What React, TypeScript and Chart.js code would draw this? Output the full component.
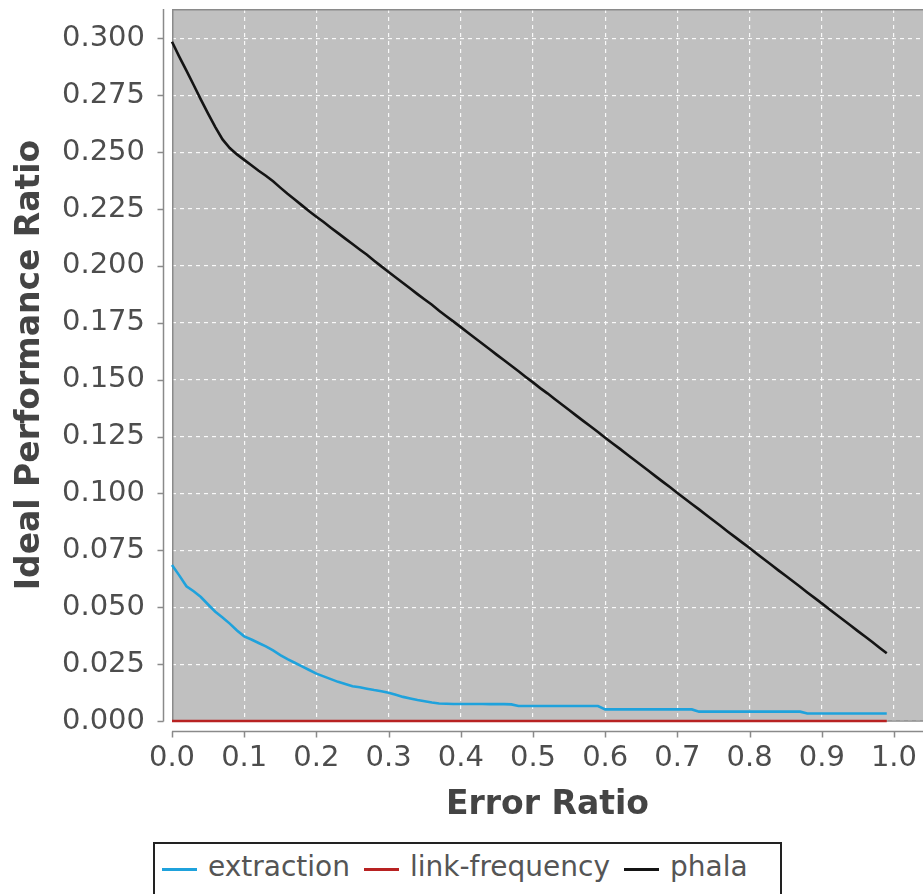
import React, { useEffect, useRef } from "react";
import { Chart, registerables } from "chart.js";

Chart.register(...registerables);

// Error ratio sampled from 0.00 to 0.99
const errorRatio = [
  0.0, 0.01, 0.02, 0.03, 0.04, 0.05, 0.06, 0.07, 0.08, 0.09,
  0.1, 0.11, 0.12, 0.13, 0.14, 0.15, 0.16, 0.17, 0.18, 0.19,
  0.2, 0.21, 0.22, 0.23, 0.24, 0.25, 0.26, 0.27, 0.28, 0.29,
  0.3, 0.31, 0.32, 0.33, 0.34, 0.35, 0.36, 0.37, 0.38, 0.39,
  0.4, 0.41, 0.42, 0.43, 0.44, 0.45, 0.46, 0.47, 0.48, 0.49,
  0.5, 0.51, 0.52, 0.53, 0.54, 0.55, 0.56, 0.57, 0.58, 0.59,
  0.6, 0.61, 0.62, 0.63, 0.64, 0.65, 0.66, 0.67, 0.68, 0.69,
  0.7, 0.71, 0.72, 0.73, 0.74, 0.75, 0.76, 0.77, 0.78, 0.79,
  0.8, 0.81, 0.82, 0.83, 0.84, 0.85, 0.86, 0.87, 0.88, 0.89,
  0.9, 0.91, 0.92, 0.93, 0.94, 0.95, 0.96, 0.97, 0.98, 0.99,
];

const extraction = [
  0.0686, 0.064, 0.0592, 0.057, 0.0545, 0.0512, 0.048, 0.0455, 0.0428, 0.0398,
  0.0372, 0.0358, 0.0343, 0.0328, 0.031, 0.029, 0.0272, 0.0256, 0.024, 0.0224,
  0.0208, 0.0196, 0.0184, 0.0172, 0.0163, 0.0153, 0.0148, 0.0142, 0.0136, 0.0131,
  0.0124, 0.0115, 0.0106, 0.0099, 0.0092, 0.0087, 0.0081, 0.0077, 0.0076, 0.0075,
  0.0075, 0.0075, 0.0075, 0.0075, 0.0074, 0.0074, 0.0074, 0.0073, 0.0066, 0.0066,
  0.0066, 0.0066, 0.0066, 0.0066, 0.0066, 0.0066, 0.0066, 0.0066, 0.0066, 0.0066,
  0.0051, 0.0051, 0.0051, 0.0051, 0.0051, 0.0051, 0.0051, 0.0051, 0.0051, 0.0051,
  0.0051, 0.0051, 0.0051, 0.0041, 0.0041, 0.0041, 0.0041, 0.0041, 0.0041, 0.0041,
  0.0041, 0.0041, 0.0041, 0.0041, 0.0041, 0.0041, 0.0041, 0.0041, 0.0033, 0.0033,
  0.0033, 0.0033, 0.0033, 0.0033, 0.0033, 0.0033, 0.0033, 0.0033, 0.0033, 0.0033,
];

const linkFrequency = [
  0, 0, 0, 0, 0, 0, 0, 0, 0, 0,
  0, 0, 0, 0, 0, 0, 0, 0, 0, 0,
  0, 0, 0, 0, 0, 0, 0, 0, 0, 0,
  0, 0, 0, 0, 0, 0, 0, 0, 0, 0,
  0, 0, 0, 0, 0, 0, 0, 0, 0, 0,
  0, 0, 0, 0, 0, 0, 0, 0, 0, 0,
  0, 0, 0, 0, 0, 0, 0, 0, 0, 0,
  0, 0, 0, 0, 0, 0, 0, 0, 0, 0,
  0, 0, 0, 0, 0, 0, 0, 0, 0, 0,
  0, 0, 0, 0, 0, 0, 0, 0, 0, 0,
];

const phala = [
  0.2985, 0.292, 0.2858, 0.2795, 0.2731, 0.2669, 0.261, 0.2556, 0.2518, 0.249,
  0.2466, 0.2442, 0.2418, 0.2396, 0.2372, 0.2344, 0.2317, 0.2292, 0.2266, 0.224,
  0.2216, 0.2193, 0.2168, 0.2144, 0.212, 0.2096, 0.2072, 0.2049, 0.2023, 0.1998,
  0.1973, 0.1949, 0.1925, 0.1901, 0.1876, 0.1852, 0.1829, 0.1803, 0.1779, 0.1755,
  0.1731, 0.1706, 0.1682, 0.1658, 0.1634, 0.1609, 0.1585, 0.1561, 0.1537, 0.1512,
  0.1488, 0.1463, 0.144, 0.1415, 0.1391, 0.1367, 0.1342, 0.1318, 0.1294, 0.127,
  0.1245, 0.1221, 0.1197, 0.1172, 0.1148, 0.1124, 0.11, 0.1075, 0.1051, 0.1027,
  0.1002, 0.0978, 0.0954, 0.093, 0.0905, 0.0881, 0.0857, 0.0832, 0.0808, 0.0784,
  0.076, 0.0735, 0.0711, 0.0687, 0.0662, 0.0638, 0.0614, 0.059, 0.0565, 0.0541,
  0.0517, 0.0492, 0.0468, 0.0444, 0.042, 0.0395, 0.0371, 0.0347, 0.0322, 0.0298,
];

const xTicks = [0, 0.1, 0.2, 0.3, 0.4, 0.5, 0.6, 0.7, 0.8, 0.9, 1.0];
const yTicks = [0, 0.025, 0.05, 0.075, 0.1, 0.125, 0.15, 0.175, 0.2, 0.225, 0.25, 0.275, 0.3];

const seriesNames = ["extraction", "link-frequency", "phala"];
const seriesColors = ["#1fa2dc", "#b82222", "#141414"];

const X_MAX = 1.0402;
const Y_MAX = 0.3129;

const FONT = "'DejaVu Sans', sans-serif";
const TEXT = "#444444";
const TICK_TEXT = "#4d4d4d";
const AXIS = "#8a8a8a";

// Plot background, outline and the offset axis lines with their tick marks
const plotFrame = {
  id: "plotFrame",
  beforeDraw(chart: any) {
    const { ctx, chartArea: a } = chart;
    ctx.save();
    ctx.fillStyle = "#c0c0c0";
    ctx.fillRect(a.left, a.top, a.right - a.left, a.bottom - a.top);
    ctx.restore();
  },
  beforeDatasetsDraw(chart: any) {
    const { ctx, chartArea: a } = chart;
    ctx.save();
    ctx.strokeStyle = AXIS;
    ctx.lineWidth = 1.5;
    ctx.beginPath();
    ctx.moveTo(a.right + 2, a.top + 0.75);
    ctx.lineTo(a.left + 0.75, a.top + 0.75);
    ctx.lineTo(a.left + 0.75, a.bottom);
    ctx.lineTo(a.right + 2, a.bottom);
    ctx.stroke();
    ctx.restore();
  },
  afterDraw(chart: any) {
    const { ctx, chartArea: a, scales } = chart;
    const yAxisX = a.left - 8.5;
    const xAxisY = a.bottom + 10.5;
    ctx.save();
    ctx.strokeStyle = AXIS;
    ctx.lineWidth = 1.5;
    ctx.beginPath();
    ctx.moveTo(yAxisX, a.top);
    ctx.lineTo(yAxisX, a.bottom + 0.5);
    for (const v of yTicks) {
      const py = Math.round(scales.y.getPixelForValue(v)) + 0.5;
      ctx.moveTo(yAxisX - 6, py);
      ctx.lineTo(yAxisX, py);
    }
    ctx.moveTo(a.left, xAxisY);
    ctx.lineTo(a.right + 2, xAxisY);
    for (const v of xTicks) {
      const px = Math.round(scales.x.getPixelForValue(v)) + 0.5;
      ctx.moveTo(px, xAxisY);
      ctx.lineTo(px, xAxisY + 6);
    }
    ctx.stroke();
    ctx.restore();
  },
};

function LegendBox() {
  return (
    <div
      style={{
        position: "absolute",
        left: 153,
        top: 842,
        width: 625,
        height: 70,
        border: "2px solid #222",
        background: "#fff",
        fontFamily: FONT,
        fontSize: 28,
        color: "#555",
      }}
    >
      <div
        style={{
          display: "flex",
          alignItems: "center",
          marginTop: 6,
          paddingLeft: 7,
          height: 34,
          lineHeight: "34px",
          whiteSpace: "nowrap",
        }}
      >
        {seriesNames.map((name, i) => (
          <div key={name} style={{ display: "flex", alignItems: "center", marginRight: 14 }}>
            <span
              style={{
                display: "inline-block",
                width: 35,
                height: 3,
                background: seriesColors[i],
                marginRight: 11,
                position: "relative",
                top: 2,
              }}
            />
            <span>{name}</span>
          </div>
        ))}
      </div>
    </div>
  );
}

export default function App() {
  const canvasRef = useRef<HTMLCanvasElement | null>(null);

  useEffect(() => {
    const canvas = canvasRef.current;
    if (!canvas) return;
    Chart.defaults.font.family = FONT;

    const toPoints = (vals: number[]) => errorRatio.map((x, i) => ({ x, y: vals[i] }));
    const seriesValues = [extraction, linkFrequency, phala];

    const chart = new Chart(canvas, {
      type: "line",
      data: {
        datasets: seriesNames.map((name, i) => ({
          label: name,
          data: toPoints(seriesValues[i]),
          borderColor: seriesColors[i],
          backgroundColor: seriesColors[i],
          borderWidth: 2.6,
          pointRadius: 0,
          tension: 0,
          fill: false,
          clip: 4,
        })),
      },
      options: {
        animation: false,
        responsive: false,
        maintainAspectRatio: false,
        devicePixelRatio: 1,
        layout: { padding: { top: 9, left: 0, right: 0, bottom: 64 } },
        plugins: {
          legend: { display: false },
          tooltip: { enabled: false },
        },
        scales: {
          x: {
            type: "linear",
            min: 0,
            max: X_MAX,
            afterBuildTicks: (scale: any) => {
              scale.ticks = xTicks.map((value) => ({ value }));
            },
            afterFit: (scale: any) => {
              scale.height = 109;
              scale.paddingLeft = 0;
              scale.paddingRight = 0;
              scale.paddingTop = 0;
              scale.paddingBottom = 0;
            },
            ticks: {
              autoSkip: false,
              maxRotation: 0,
              padding: 20,
              color: TICK_TEXT,
              font: { size: 29, family: FONT },
              callback: (v: any) => Number(v).toFixed(1),
            },
            grid: {
              drawTicks: false,
              color: "rgba(255,255,255,0.9)",
              lineWidth: 1.2,
            },
            border: { display: false, dash: [4, 4] },
            title: {
              display: true,
              text: "Error Ratio",
              color: TEXT,
              font: { size: 33, weight: "bold", family: FONT },
              padding: { top: 0, bottom: 5 },
            },
          },
          y: {
            type: "linear",
            min: 0,
            max: Y_MAX,
            afterBuildTicks: (scale: any) => {
              scale.ticks = yTicks.map((value) => ({ value }));
            },
            afterFit: (scale: any) => {
              scale.width = 172;
              scale.paddingLeft = 0;
              scale.paddingRight = 0;
              scale.paddingTop = 0;
              scale.paddingBottom = 0;
            },
            ticks: {
              autoSkip: false,
              padding: 27,
              color: TICK_TEXT,
              font: { size: 29, family: FONT },
              callback: (v: any) => Number(v).toFixed(3),
            },
            grid: {
              drawTicks: false,
              color: "rgba(255,255,255,0.9)",
              lineWidth: 1.2,
            },
            border: { display: false, dash: [4, 4] },
            title: {
              display: true,
              text: "Ideal Performance Ratio",
              color: TEXT,
              font: { size: 33, weight: "bold", family: FONT },
              padding: { top: 11, bottom: 0 },
            },
          },
        },
      },
      plugins: [plotFrame],
    });

    return () => chart.destroy();
  }, []);

  return (
    <div
      style={{
        position: "fixed",
        left: 0,
        top: 0,
        width: 923,
        height: 894,
        overflow: "hidden",
        background: "#fff",
      }}
    >
      <canvas ref={canvasRef} width={923} height={894} style={{ display: "block" }} />
      <LegendBox />
    </div>
  );
}
